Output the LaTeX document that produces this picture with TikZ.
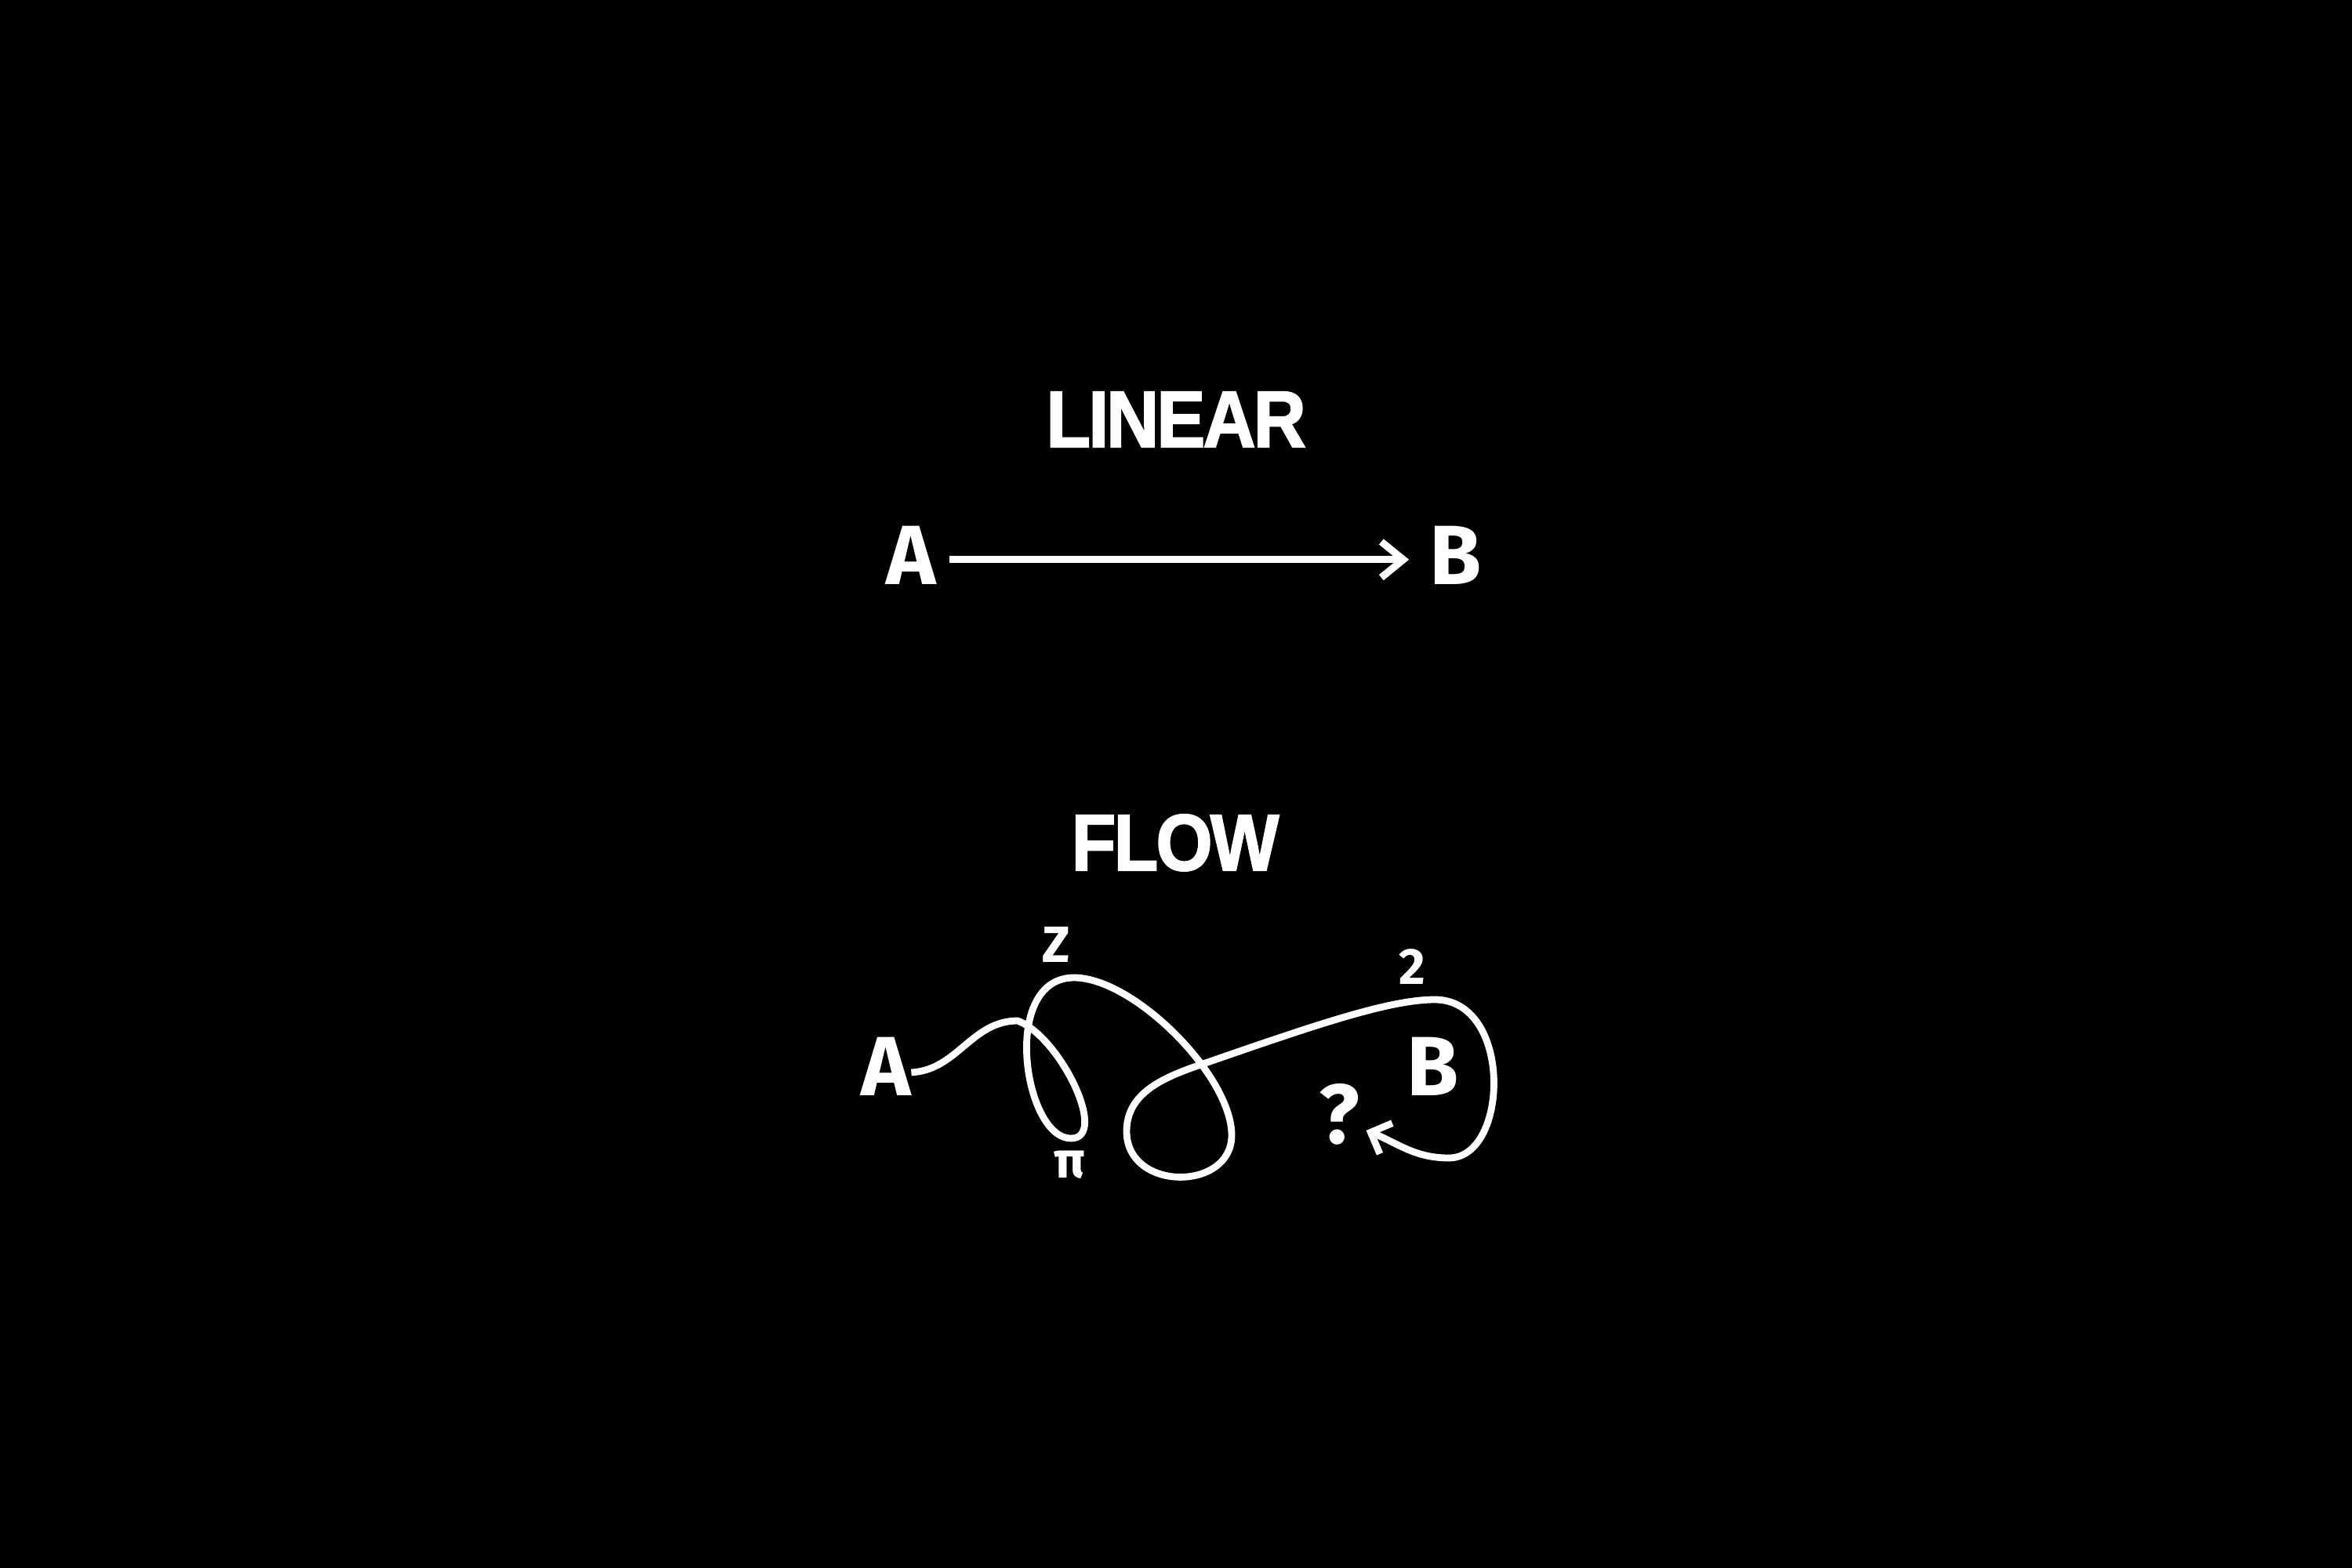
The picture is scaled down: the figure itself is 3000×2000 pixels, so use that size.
\documentclass[tikz,border=0pt]{standalone}
\usepackage{fontspec}
\usetikzlibrary{arrows.meta}
\newfontfamily\titlefont{Liberation Sans}[LetterSpace=-3, Kerning=Off, FakeBold=2]
\newfontfamily\labfont{Fira Sans}
\tikzset{
  title/.style={text=white, inner sep=0pt, anchor=base, font=\titlefont\bfseries\fontsize{29pt}{30pt}\selectfont},
  big/.style={text=white, inner sep=0pt, anchor=base, font=\labfont\bfseries\fontsize{30.5pt}{31pt}\selectfont},
  small/.style={text=white, inner sep=0pt, anchor=base, font=\labfont\bfseries\fontsize{18.5pt}{19pt}\selectfont},
  linarr/.style={white, line width=2.6pt, -{Straight Barb[length=8pt, width=13pt, line width=2.6pt]}},
  flowline/.style={white, line width=2.5pt, line join=round, -{Straight Barb[length=6pt, width=12pt, line width=2.5pt]}}
}
\begin{document}
\begin{tikzpicture}[x=0.01cm, y=-0.01cm]
\fill[black] (0,0) rectangle (3000,2000);
\useasboundingbox (0,0) rectangle (3000,2000);
% titles
\node[title] (tlin) at (1500,570) {\scalebox{0.91}[1]{LINEAR}};
\node[title] (tflow) at (1499,1110) {\scalebox{0.91}[1]{FLOW}};
% linear
\node[big] (lA) at (1162,745) {A};
\node[big] (lB) at (1857,745) {B};
\draw[linarr, shorten <=4.8pt, shorten >=7.4pt] ([yshift=-1.7pt]lA.east) -- ([yshift=-1.7pt]lB.west);
% flow
\node[big] (fA) at (1130,1397) {A};
\node[big] (fB) at (1828,1397) {B};
\node[big] (q) at (1708,1458) {?};
\node[small] (z) at (1347,1227) {Z};
\node[small] (two) at (1801,1255) {2};
\node[small] (pi) at (1364,1502) {π};
\draw[flowline] ([yshift=-2.3pt]fA.east)
  to[out=3, in=180] (1298,1302)
  .. controls (1352,1322) and (1415,1452) .. (1366,1452)
  .. controls (1306,1452) and (1275,1247) .. (1370,1247)
  .. controls (1446,1247) and (1571,1372) .. (1571,1448)
  .. controls (1571,1520) and (1437,1520) .. (1437,1443)
  to[out=90, in=200] (1520,1362)
  .. controls (1670,1310) and (1770,1275) .. (1830,1275)
  .. controls (1930,1275) and (1925,1477) .. (1848,1477)
  to[out=180, in=-22] ([shift={(2.3pt,-6pt)}]q.east);
\end{tikzpicture}
\end{document}
